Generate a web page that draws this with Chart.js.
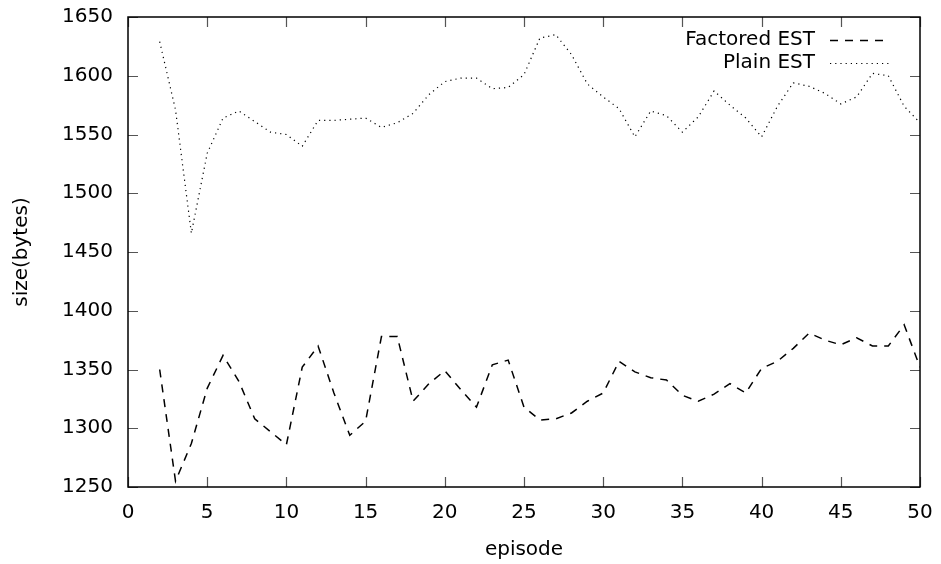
<!DOCTYPE html>
<html>
<head>
<meta charset="utf-8">
<script src="https://cdn.jsdelivr.net/npm/chart.js@4/dist/chart.umd.min.js"></script>
<style>
  html, body { margin: 0; padding: 0; background: #fff; }
  #wrap { width: 941px; height: 564px; }
</style>
</head>
<body>
<div id="wrap"><canvas id="c" width="941" height="564"></canvas></div>
<script>
const episodes = [2,3,4,5,6,7,8,9,10,11,12,13,14,15,16,17,18,19,20,21,22,23,24,25,26,27,28,29,30,31,32,33,34,35,36,37,38,39,40,41,42,43,44,45,46,47,48,49,50];
const factoredEST = [1350,1255,1287,1334,1362,1340,1308,1297,1286,1352,1370,1330,1294,1306,1378,1378,1323,1338,1349,1333,1318,1354,1358,1318,1307,1308,1313,1323,1330,1357,1348,1343,1341,1328,1323,1329,1338,1330,1351,1357,1368,1381,1375,1371,1377,1370,1370,1388,1352];
const plainEST = [1629,1571,1466,1534,1564,1570,1561,1552,1550,1540,1562,1562,1563,1564,1556,1560,1568,1584,1595,1598,1598,1589,1590,1601,1632,1635,1618,1593,1582,1572,1548,1570,1566,1552,1565,1587,1575,1564,1548,1574,1594,1591,1585,1576,1582,1602,1600,1574,1560];
const xTicks = [0,5,10,15,20,25,30,35,40,45,50];
const yTicks = [1250,1300,1350,1400,1450,1500,1550,1600,1650];
const seriesNames = ["Factored EST", "Plain EST"];

const FONT = "'DejaVu Sans', sans-serif";

const frameAndLegend = {
  id: 'frameAndLegend',
  afterDraw(chart) {
    const ctx = chart.ctx;
    const a = chart.chartArea;
    const xs = chart.scales.x, ys = chart.scales.y;
    ctx.save();
    // inward ticks
    ctx.strokeStyle = '#555';
    ctx.lineWidth = 1.2;
    ctx.setLineDash([]);
    ctx.beginPath();
    yTicks.forEach(v => {
      const py = Math.round(ys.getPixelForValue(v)) + 0.5;
      ctx.moveTo(a.left, py); ctx.lineTo(a.left + 10, py);
      ctx.moveTo(a.right, py); ctx.lineTo(a.right - 10, py);
    });
    xTicks.forEach(v => {
      const px = Math.round(xs.getPixelForValue(v)) + 0.5;
      ctx.moveTo(px, a.bottom); ctx.lineTo(px, a.bottom - 10);
      ctx.moveTo(px, a.top); ctx.lineTo(px, a.top + 10);
    });
    ctx.stroke();
    // frame
    ctx.strokeStyle = '#000';
    ctx.lineWidth = 1.5;
    ctx.strokeRect(a.left, a.top, a.right - a.left, a.bottom - a.top);
    // legend
    ctx.font = '20px ' + FONT;
    ctx.fillStyle = '#000';
    ctx.textAlign = 'right';
    ctx.textBaseline = 'middle';
    const rowsY = [40, 63];
    chart.data.datasets.forEach((ds, i) => {
      const y = rowsY[i];
      ctx.fillText(ds.label, 815, y);
      ctx.beginPath();
      ctx.strokeStyle = ds.borderColor;
      ctx.lineWidth = ds.borderWidth;
      ctx.setLineDash(ds.borderDash);
      ctx.moveTo(830, y + 0.5); ctx.lineTo(890, y + 0.5);
      ctx.stroke();
    });
    ctx.restore();
  }
};

new Chart(document.getElementById('c'), {
  type: 'line',
  data: {
    datasets: [
      {
        label: seriesNames[0],
        data: episodes.map((e, i) => ({ x: e, y: factoredEST[i] })),
        borderColor: '#000',
        borderWidth: 1.5,
        borderDash: [8, 7],
        pointRadius: 0,
        fill: false,
        tension: 0
      },
      {
        label: seriesNames[1],
        data: episodes.map((e, i) => ({ x: e, y: plainEST[i] })),
        borderColor: '#000',
        borderWidth: 1.2,
        borderDash: [1.2, 4],
        pointRadius: 0,
        fill: false,
        tension: 0
      }
    ]
  },
  options: {
    responsive: false,
    animation: false,
    devicePixelRatio: 1,
    layout: { padding: { top: 17, right: 21, left: 0, bottom: 0 } },
    plugins: { legend: { display: false }, tooltip: { enabled: false } },
    scales: {
      x: {
        type: 'linear',
        min: 0, max: 50,
        afterBuildTicks: s => { s.ticks = xTicks.map(v => ({ value: v })); },
        afterFit: s => { s.height = 77; s.paddingLeft = 0; s.paddingRight = 0; },
        grid: { display: false, drawTicks: false },
        border: { display: false },
        ticks: { color: '#000', font: { family: FONT, size: 20 }, padding: 14, maxRotation: 0, callback: v => String(v) },
        title: { display: true, text: 'episode', color: '#000', font: { family: FONT, size: 20 }, padding: { top: 0, bottom: 2 } }
      },
      y: {
        type: 'linear',
        min: 1250, max: 1650,
        afterBuildTicks: s => { s.ticks = yTicks.map(v => ({ value: v })); },
        afterFit: s => { s.width = 128; s.paddingTop = 0; s.paddingBottom = 0; },
        grid: { display: false, drawTicks: false },
        border: { display: false },
        ticks: { color: '#000', font: { family: FONT, size: 20 }, padding: 15, callback: v => String(v) },
        title: { display: true, text: 'size(bytes)', color: '#000', font: { family: FONT, size: 20 }, padding: { top: 10, bottom: 0 } }
      }
    }
  },
  plugins: [frameAndLegend]
});
</script>
</body>
</html>
